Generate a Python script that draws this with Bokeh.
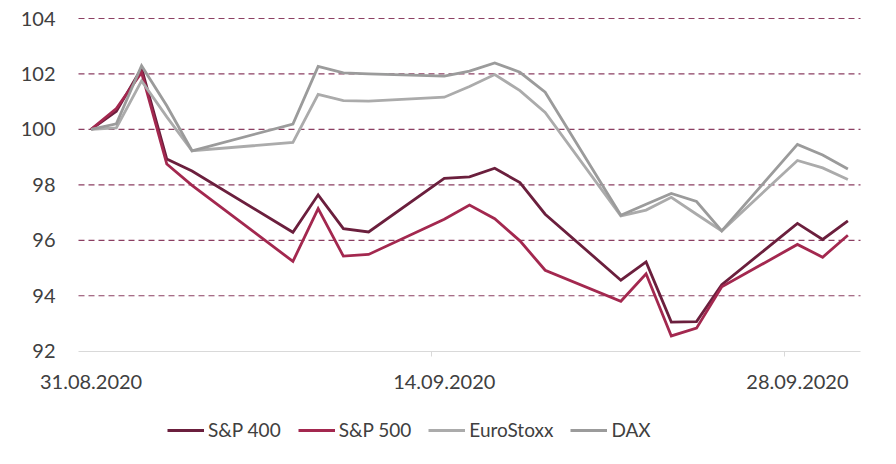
import pandas as pd
from bokeh.plotting import figure
from bokeh.models import Range1d, FixedTicker, Legend, LegendItem
from bokeh.embed import file_html
from bokeh.resources import INLINE

dates = ["31.08.2020", "01.09.2020", "02.09.2020", "03.09.2020", "04.09.2020",
         "08.09.2020", "09.09.2020", "10.09.2020", "11.09.2020",
         "14.09.2020", "15.09.2020", "16.09.2020", "17.09.2020", "18.09.2020",
         "21.09.2020", "22.09.2020", "23.09.2020", "24.09.2020", "25.09.2020",
         "28.09.2020", "29.09.2020", "30.09.2020"]

sp400 = [100.0, 100.65, 102.2, 98.93, 98.5,
         96.29, 97.64, 96.42, 96.3,
         98.23, 98.29, 98.6, 98.08, 96.94,
         94.56, 95.22, 93.05, 93.07, 94.4,
         96.61, 96.03, 96.7]
sp500 = [100.0, 100.75, 102.05, 98.75, 97.98,
         95.24, 97.14, 95.43, 95.49,
         96.76, 97.27, 96.78, 95.98, 94.92,
         93.8, 94.79, 92.55, 92.83, 94.32,
         95.85, 95.39, 96.18]
eurostoxx = [100.0, 100.05, 101.75, 100.45, 99.23,
             99.53, 101.26, 101.04, 101.02,
             101.16, 101.55, 101.98, 101.4, 100.61,
             96.88, 97.09, 97.55, 96.94, 96.34,
             98.88, 98.61, 98.19]
dax = [100.0, 100.2, 102.3, 100.85, 99.23,
       100.19, 102.27, 102.04, 102.0,
       101.92, 102.1, 102.4, 102.06, 101.34,
       96.9, 97.3, 97.69, 97.4, 96.34,
       99.46, 99.08, 98.57]

tick_labels = ["31.08.2020", "14.09.2020", "28.09.2020"]
y_ticks = [92, 94, 96, 98, 100, 102, 104]

d = pd.to_datetime(dates, format="%d.%m.%Y")
x = [(t - d[0]).days for t in d]
label_days = [(pd.to_datetime(s, format="%d.%m.%Y") - d[0]).days for s in tick_labels]

FONT = "Lato"
TXT = "#404040"

# layout in pixels: plot area from (78, 18) to (860, 350.7)
W, H = 880, 448
PL, PR, PT, PB = 78, 860, 18, 350.7
x0, x1 = x[0] - 0.5, x[-1] + 0.5
ymin_v, ymax_v = y_ticks[0], y_ticks[-1]
ppx = (PR - PL) / (x1 - x0)
ppy = (PB - PT) / (ymax_v - ymin_v)

p = figure(width=W, height=H, output_backend="svg", toolbar_location=None,
           x_range=Range1d(x0 - PL / ppx, x0 + (W - PL) / ppx),
           y_range=Range1d(ymax_v - (H - PT) / ppy, ymax_v + PT / ppy),
           min_border_left=0, min_border_right=0, min_border_top=0,
           min_border_bottom=0)
p.outline_line_color = None
p.background_fill_color = "white"

# dashed horizontal grid lines, limited to the plot area
p.xgrid.visible = False
p.ygrid.visible = False
g = y_ticks[1:]
p.segment(x0=[x0] * len(g), y0=g, x1=[x1] * len(g), y1=g,
          line_color="#8B3F62", line_width=1.2, line_dash="6 4")

# x axis, pinned at y = 92
p.xaxis.fixed_location = ymin_v
p.xaxis.bounds = (x0, x1)
p.xaxis.ticker = FixedTicker(ticks=label_days,
                             minor_ticks=[v - 0.5 for v in label_days[1:]])
p.xaxis.major_label_overrides = {k: s for k, s in zip(label_days, tick_labels)}
p.xaxis.axis_line_color = "#D9D9D9"
p.xaxis.axis_line_width = 1.2
p.xaxis.major_tick_line_color = None
p.xaxis.major_tick_out = 0
p.xaxis.major_tick_in = 0
p.xaxis.minor_tick_line_color = "#D9D9D9"
p.xaxis.minor_tick_out = 5
p.xaxis.minor_tick_in = 0
p.xaxis.major_label_standoff = 19
p.xaxis.major_label_text_font = FONT
p.xaxis.major_label_text_font_size = "20px"
p.xaxis.major_label_text_color = TXT

# y axis, pinned at the left edge of the plot area
p.yaxis.fixed_location = x0
p.yaxis.ticker = FixedTicker(ticks=y_ticks)
p.yaxis.axis_line_color = None
p.yaxis.major_tick_line_color = None
p.yaxis.minor_tick_line_color = None
p.yaxis.major_tick_out = 0
p.yaxis.major_tick_in = 0
p.yaxis.major_label_standoff = 23
p.yaxis.major_label_text_font = FONT
p.yaxis.major_label_text_font_size = "20px"
p.yaxis.major_label_text_color = TXT

series = [("S&P 400", sp400, "#6B1F3D"),
          ("S&P 500", sp500, "#A3284F"),
          ("EuroStoxx", eurostoxx, "#ABABAB"),
          ("DAX", dax, "#9B9B9B")]

items = []
for name, ys, col in series:
    r = p.line(x, ys, line_color=col, line_width=2.8, line_join="miter")
    items.append(LegendItem(label=name, renderers=[r]))

legend = Legend(items=items, orientation="horizontal", location=(167, 7),
                glyph_width=37, glyph_height=20, label_standoff=4, spacing=17,
                padding=0, margin=0, border_line_color=None,
                background_fill_alpha=0,
                label_text_font=FONT, label_text_font_size="19px",
                label_text_color=TXT)
p.add_layout(legend, "center")

open("out.html", "w").write(file_html(p, INLINE))
